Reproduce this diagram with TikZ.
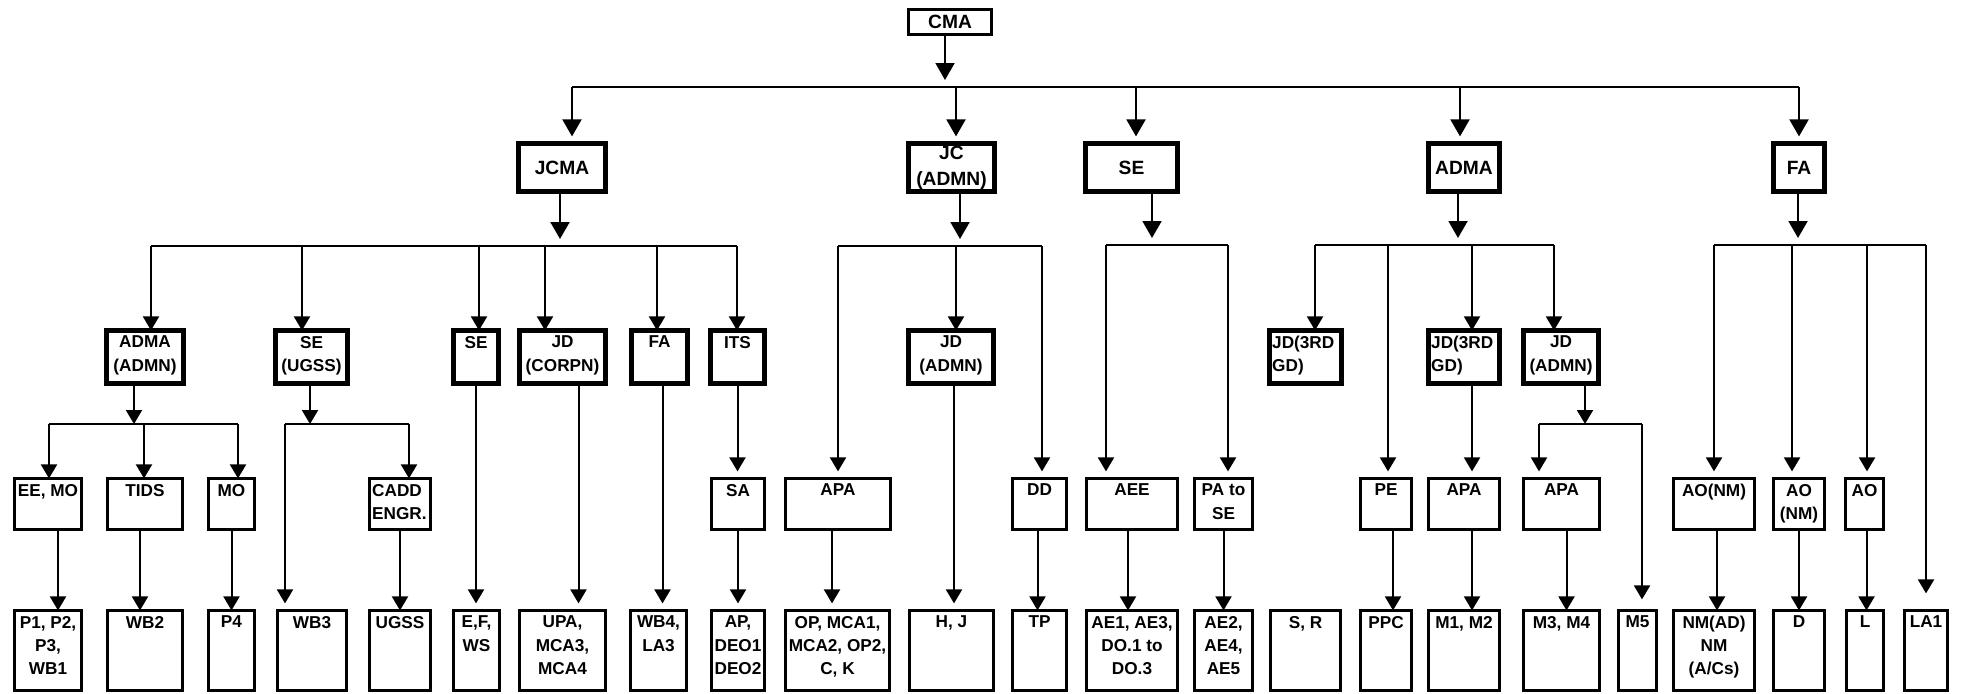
\documentclass[tikz,border=0pt]{standalone}
\usepackage{fontspec}
\setmainfont{Liberation Sans}
\usetikzlibrary{arrows.meta}
\newcommand{\postfont}{\fontsize{8.6}{11.6}\selectfont\bfseries}
\newcommand{\headfont}{\fontsize{9.6}{12.8}\selectfont\bfseries}
\tikzstyle{link} = [line width=1pt, black]
\tikzstyle{feed} = [line width=1pt, black, -{Triangle[width=8pt, length=7pt]}]
\tikzstyle{gapfeed} = [feed, shorten >=3.5pt]
\tikzstyle{topfeed} = [line width=1pt, black, -{Triangle[width=9.5pt, length=8.5pt]}, shorten >=3.5pt]
\tikzset{
  chief/.style={draw, line width=1.4pt, inner sep=0pt, outer sep=0pt, font=\headfont, align=center},
  head/.style={draw, line width=2.4pt, inner sep=0pt, outer sep=0pt, font=\headfont, align=center, minimum height=24.1pt},
  unit/.style={draw, line width=2.4pt, inner sep=0pt, outer sep=0pt, minimum height=26.6pt},
  post/.style={draw, line width=1.4pt, inner sep=0pt, outer sep=0pt, minimum height=25.6pt},
  staff/.style={draw, line width=1.4pt, inner sep=0pt, outer sep=0pt, minimum height=40.1pt},
  tag/.style={font=\postfont, align=center, inner sep=2.6pt, anchor=north},
  ltag/.style={font=\postfont, align=left, inner xsep=1.2pt, inner ysep=2.6pt, anchor=north west},
  txt/.style={label={[tag]north:{#1}}},
  ltxt/.style={label={[ltag]north west:{#1}}}
}

\begin{document}
\begin{tikzpicture}[x=0.5pt, y=-0.5pt]
    \useasboundingbox (0,0) rectangle (1963,693);

    % Top
    \node[chief, minimum width=41.6pt, minimum height=12.6pt] (cma) at (950,22) {CMA};

    % Heads
    \node[head, minimum width=43.6pt] (jcma) at (562,167.5) {JCMA};
    \node[head, minimum width=43.1pt] (jc) at (951.5,167.5) {JC\\(ADMN)};
    \node[head, minimum width=46.1pt] (se1) at (1131.5,167.5) {SE};
    \node[head, minimum width=35.6pt] (adma1) at (1464,167.5) {ADMA};
    \node[head, minimum width=25.6pt] (fa1) at (1799,167.5) {FA};

    % Units
    \node[unit, minimum width=38.6pt, txt={ADMA\\(ADMN)}] (admaadmn) at (145,357) {};
    \node[unit, minimum width=36.1pt, txt={SE\\(UGSS)}] (seugss) at (311.5,357) {};
    \node[unit, minimum width=22.6pt, txt={SE}] (se2) at (476,357) {};
    \node[unit, minimum width=43.1pt, txt={JD\\(CORPN)}] (jdcorpn) at (562.5,357) {};
    \node[unit, minimum width=28.1pt, txt={FA}] (fa2) at (659.5,357) {};
    \node[unit, minimum width=27.1pt, txt={ITS}] (its) at (737.5,357) {};
    \node[unit, minimum width=42.6pt, txt={JD\\(ADMN)}] (jdadmn1) at (951,357) {};
    \node[unit, minimum width=36.1pt, ltxt={JD(3RD\\GD)}] (jdgd1) at (1305.5,357) {};
    \node[unit, minimum width=35.6pt, ltxt={JD(3RD\\GD)}] (jdgd2) at (1464,357) {};
    \node[unit, minimum width=37.6pt, txt={JD\\(ADMN)}] (jdadmn2) at (1561,357) {};

    % Posts
    \node[post, minimum width=33.6pt, txt={EE, MO}] (eemo) at (48,504) {};
    \node[post, minimum width=37.6pt, txt={TIDS}] (tids) at (145,504) {};
    \node[post, minimum width=23.1pt, txt={MO}] (mo) at (231.5,504) {};
    \node[post, minimum width=30.6pt, ltxt={CADD\\ENGR.}] (cadd) at (400,504) {};
    \node[post, minimum width=26.6pt, txt={SA}] (sa) at (738,504) {};
    \node[post, minimum width=52.6pt, txt={APA}] (apa1) at (838,504) {};
    \node[post, minimum width=27.1pt, txt={DD}] (dd) at (1039.5,504) {};
    \node[post, minimum width=45.6pt, txt={AEE}] (aee) at (1132,504) {};
    \node[post, minimum width=29.1pt, txt={PA to\\SE}] (pase) at (1223.5,504) {};
    \node[post, minimum width=25.6pt, txt={PE}] (pe) at (1386,504) {};
    \node[post, minimum width=35.6pt, txt={APA}] (apa2) at (1464,504) {};
    \node[post, minimum width=38.1pt, txt={APA}] (apa3) at (1561.5,504) {};
    \node[post, minimum width=40.6pt, txt={AO(NM)}] (aonm1) at (1714,504) {};
    \node[post, minimum width=25.6pt, txt={AO\\(NM)}] (aonm2) at (1799,504) {};
    \node[post, minimum width=19.1pt, txt={AO}] (ao) at (1864.5,504) {};

    % Staff
    \node[staff, minimum width=33.6pt, txt={P1, P2,\\P3,\\WB1}] (p1) at (48,650.5) {};
    \node[staff, minimum width=37.6pt, txt={WB2}] (wb2) at (145,650.5) {};
    \node[staff, minimum width=23.1pt, txt={P4}] (p4) at (231.5,650.5) {};
    \node[staff, minimum width=34.6pt, txt={WB3}] (wb3) at (312,650.5) {};
    \node[staff, minimum width=30.6pt, txt={UGSS}] (ugss) at (400,650.5) {};
    \node[staff, minimum width=23.1pt, txt={E,F,\\WS}] (efws) at (476.5,650.5) {};
    \node[staff, minimum width=43.1pt, txt={UPA,\\MCA3,\\MCA4}] (upa) at (562.5,650.5) {};
    \node[staff, minimum width=28.1pt, txt={WB4,\\LA3}] (wb4) at (658.5,650.5) {};
    \node[staff, minimum width=26.6pt, txt={AP,\\DEO1\\DEO2}] (ap) at (738,650.5) {};
    \node[staff, minimum width=52.1pt, txt={OP, MCA1,\\MCA2, OP2,\\C, K}] (op) at (837.5,650.5) {};
    \node[staff, minimum width=42.1pt, txt={H, J}] (hj) at (951.5,650.5) {};
    \node[staff, minimum width=27.1pt, txt={TP}] (tp) at (1039.5,650.5) {};
    \node[staff, minimum width=45.6pt, txt={AE1, AE3,\\DO.1 to\\DO.3}] (ae1) at (1132,650.5) {};
    \node[staff, minimum width=29.1pt, txt={AE2,\\AE4,\\AE5}] (ae2) at (1223.5,650.5) {};
    \node[staff, minimum width=35.1pt, txt={S, R}] (sr) at (1305.5,650.5) {};
    \node[staff, minimum width=25.6pt, txt={PPC}] (ppc) at (1386,650.5) {};
    \node[staff, minimum width=35.6pt, txt={M1, M2}] (m12) at (1464,650.5) {};
    \node[staff, minimum width=38.1pt, txt={M3, M4}] (m34) at (1561.5,650.5) {};
    \node[staff, minimum width=19.1pt, txt={M5}] (m5) at (1637.5,650.5) {};
    \node[staff, minimum width=40.6pt, txt={NM(AD)\\NM\\(A/Cs)}] (nmad) at (1714,650.5) {};
    \node[staff, minimum width=25.6pt, txt={D}] (d) at (1799,650.5) {};
    \node[staff, minimum width=18.6pt, txt={L}] (l) at (1865,650.5) {};
    \node[staff, minimum width=21.6pt, txt={LA1}] (la1) at (1926,650.5) {};

    % Top bus
    \coordinate (t0) at (945,87);
    \coordinate (t1) at (572,87);
    \coordinate (t2) at (956,87);
    \coordinate (t3) at (1136,87);
    \coordinate (t4) at (1460,87);
    \coordinate (t5) at (1799,87);
    \draw[topfeed] (cma.south -| t0) -- (t0);
    \draw[link] (t1) -- (t5);
    \draw[topfeed] (t1) -- (t1 |- jcma.north);
    \draw[topfeed] (t2) -- (t2 |- jc.north);
    \draw[topfeed] (t3) -- (t3 |- se1.north);
    \draw[topfeed] (t4) -- (t4 |- adma1.north);
    \draw[topfeed] (t5) -- (t5 |- fa1.north);

    % JCMA bus
    \coordinate (a0) at (560,246);
    \coordinate (a1) at (151,246);
    \coordinate (a2) at (302,246);
    \coordinate (a3) at (479,246);
    \coordinate (a4) at (545,246);
    \coordinate (a5) at (657,246);
    \coordinate (a6) at (737,246);
    \draw[topfeed] (jcma.south -| a0) -- (a0);
    \draw[link] (a1) -- (a6);
    \draw[feed] (a1) -- (a1 |- admaadmn.north);
    \draw[feed] (a2) -- (a2 |- seugss.north);
    \draw[feed] (a3) -- (a3 |- se2.north);
    \draw[feed] (a4) -- (a4 |- jdcorpn.north);
    \draw[feed] (a5) -- (a5 |- fa2.north);
    \draw[feed] (a6) -- (a6 |- its.north);

    % JC (ADMN) bus
    \coordinate (b0) at (960,246);
    \coordinate (b1) at (838,246);
    \coordinate (b2) at (956,246);
    \coordinate (b3) at (1042,246);
    \draw[topfeed] (jc.south -| b0) -- (b0);
    \draw[link] (b1) -- (b3);
    \draw[gapfeed] (b1) -- (b1 |- apa1.north);
    \draw[feed] (b2) -- (b2 |- jdadmn1.north);
    \draw[gapfeed] (b3) -- (b3 |- dd.north);

    % SE bus
    \coordinate (c0) at (1152,245);
    \coordinate (c1) at (1106,245);
    \coordinate (c2) at (1228,245);
    \draw[topfeed] (se1.south -| c0) -- (c0);
    \draw[link] (c1) -- (c2);
    \draw[gapfeed] (c1) -- (c1 |- aee.north);
    \draw[gapfeed] (c2) -- (c2 |- pase.north);

    % ADMA bus
    \coordinate (e0) at (1458,245);
    \coordinate (e1) at (1315,245);
    \coordinate (e2) at (1388,245);
    \coordinate (e3) at (1472,245);
    \coordinate (e4) at (1554,245);
    \draw[topfeed] (adma1.south -| e0) -- (e0);
    \draw[link] (e1) -- (e4);
    \draw[feed] (e1) -- (e1 |- jdgd1.north);
    \draw[gapfeed] (e2) -- (e2 |- pe.north);
    \draw[feed] (e3) -- (e3 |- jdgd2.north);
    \draw[feed] (e4) -- (e4 |- jdadmn2.north);

    % FA bus
    \coordinate (f0) at (1798,245);
    \coordinate (f1) at (1714,245);
    \coordinate (f2) at (1792,245);
    \coordinate (f3) at (1867,245);
    \coordinate (f4) at (1926,245);
    \draw[topfeed] (fa1.south -| f0) -- (f0);
    \draw[link] (f1) -- (f4);
    \draw[gapfeed] (f1) -- (f1 |- aonm1.north);
    \draw[gapfeed] (f2) -- (f2 |- aonm2.north);
    \draw[gapfeed] (f3) -- (f3 |- ao.north);
    \draw[feed, shorten >=8.5pt] (f4) -- (f4 |- la1.north);

    % Sub-buses
    \coordinate (g0) at (134,424);
    \coordinate (g1) at (49,424);
    \coordinate (g2) at (144,424);
    \coordinate (g3) at (238,424);
    \draw[feed] (admaadmn.south -| g0) -- (g0);
    \draw[link] (g1) -- (g3);
    \draw[feed] (g1) -- (g1 |- eemo.north);
    \draw[feed] (g2) -- (g2 |- tids.north);
    \draw[feed] (g3) -- (g3 |- mo.north);

    \coordinate (h0) at (310,424);
    \coordinate (h1) at (285,424);
    \coordinate (h2) at (409,424);
    \draw[feed] (seugss.south -| h0) -- (h0);
    \draw[link] (h1) -- (h2);
    \draw[gapfeed] (h1) -- (h1 |- wb3.north);
    \draw[feed] (h2) -- (h2 |- cadd.north);

    \coordinate (k0) at (1585,424);
    \coordinate (k1) at (1539,424);
    \coordinate (k2) at (1642,424);
    \draw[feed] (jdadmn2.south -| k0) -- (k0);
    \draw[link] (k1) -- (k2);
    \draw[gapfeed] (k1) -- (k1 |- apa3.north);
    \draw[feed, shorten >=5.5pt] (k2) -- (k2 |- m5.north);

    % Straight lines down
    \draw[gapfeed] (se2.south) -- (se2.south |- efws.north);
    \draw[gapfeed] ([xshift=8pt]jdcorpn.south) -- ([xshift=8pt]jdcorpn.south |- upa.north);
    \draw[gapfeed] ([xshift=1.5pt]fa2.south) -- ([xshift=1.5pt]fa2.south |- wb4.north);
    \draw[gapfeed] (its.south) -- (its.south |- sa.north);
    \draw[gapfeed] ([xshift=1.5pt]jdadmn1.south) -- ([xshift=1.5pt]jdadmn1.south |- hj.north);
    \draw[gapfeed] ([xshift=4pt]jdgd2.south) -- ([xshift=4pt]jdgd2.south |- apa2.north);

    \draw[feed] ([xshift=5pt]eemo.south) -- ([xshift=5pt]eemo.south |- p1.north);
    \draw[feed] ([xshift=-2.5pt]tids.south) -- ([xshift=-2.5pt]tids.south |- wb2.north);
    \draw[feed] (mo.south) -- (mo.south |- p4.north);
    \draw[feed] (cadd.south) -- (cadd.south |- ugss.north);
    \draw[gapfeed] (sa.south) -- (sa.south |- ap.north);
    \draw[gapfeed] ([xshift=-3pt]apa1.south) -- ([xshift=-3pt]apa1.south |- op.north);
    \draw[feed] ([xshift=-1pt]dd.south) -- ([xshift=-1pt]dd.south |- tp.north);
    \draw[feed] ([xshift=-2pt]aee.south) -- ([xshift=-2pt]aee.south |- ae1.north);
    \draw[feed] (pase.south) -- (pase.south |- ae2.north);
    \draw[feed] ([xshift=3.5pt]pe.south) -- ([xshift=3.5pt]pe.south |- ppc.north);
    \draw[feed] ([xshift=4pt]apa2.south) -- ([xshift=4pt]apa2.south |- m12.north);
    \draw[feed] ([xshift=2.5pt]apa3.south) -- ([xshift=2.5pt]apa3.south |- m34.north);
    \draw[feed] ([xshift=1.5pt]aonm1.south) -- ([xshift=1.5pt]aonm1.south |- nmad.north);
    \draw[feed] (aonm2.south) -- (aonm2.south |- d.north);
    \draw[feed] ([xshift=1pt]ao.south) -- ([xshift=1pt]ao.south |- l.north);
\end{tikzpicture}
\end{document}
